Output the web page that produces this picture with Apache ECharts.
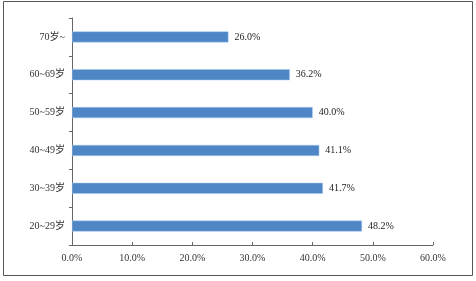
<!DOCTYPE html>
<html>
<head>
<meta charset="utf-8">
<script src="https://cdn.jsdelivr.net/npm/echarts@6/dist/echarts.min.js"></script>
<style>
html,body{margin:0;padding:0;background:#fff;}
#c{width:476px;height:281px;}
</style>
</head>
<body>
<div id="c"></div>
<script>
const categories = ['20~29岁', '30~39岁', '40~49岁', '50~59岁', '60~69岁', '70岁~'];
const values = [48.2, 41.7, 41.1, 40.0, 36.2, 26.0];
const xTicks = [0, 10, 20, 30, 40, 50, 60];

const chart = echarts.init(document.getElementById('c'), null, {renderer: 'canvas'});
const font = '"Liberation Serif", "Noto Sans CJK SC", serif';
chart.setOption({
  animation: false,
  backgroundColor: '#fff',
  grid: {left: 72, right: 43, top: 18, bottom: 36},
  graphic: [{
    type: 'rect',
    shape: {x: 3.5, y: 1.5, width: 469, height: 274},
    style: {fill: 'none', stroke: '#555', lineWidth: 1},
    silent: true
  }],
  xAxis: {
    type: 'value',
    min: xTicks[0],
    max: xTicks[xTicks.length - 1],
    interval: 10,
    axisLine: {show: true, lineStyle: {color: '#666', width: 1}},
    axisTick: {show: true, inside: true, length: 3, lineStyle: {color: '#666'}},
    splitLine: {show: false},
    axisLabel: {
      color: '#333', fontSize: 10, fontFamily: font, margin: 8,
      formatter: v => v.toFixed(1) + '%'
    }
  },
  yAxis: {
    type: 'category',
    data: categories,
    axisLine: {show: true, lineStyle: {color: '#666', width: 1}},
    axisTick: {show: true, length: 3, lineStyle: {color: '#666'}},
    axisLabel: {color: '#333', fontSize: 10, fontFamily: font, margin: 7}
  },
  series: [{
    type: 'bar',
    data: values,
    barWidth: 11,
    itemStyle: {color: '#4f86c6', borderColor: '#a9cdf0', borderWidth: 0.5},
    label: {
      show: true, position: 'right', distance: 6,
      color: '#222', fontSize: 10, fontFamily: font,
      formatter: p => p.value.toFixed(1) + '%'
    }
  }]
});
</script>
</body>
</html>
